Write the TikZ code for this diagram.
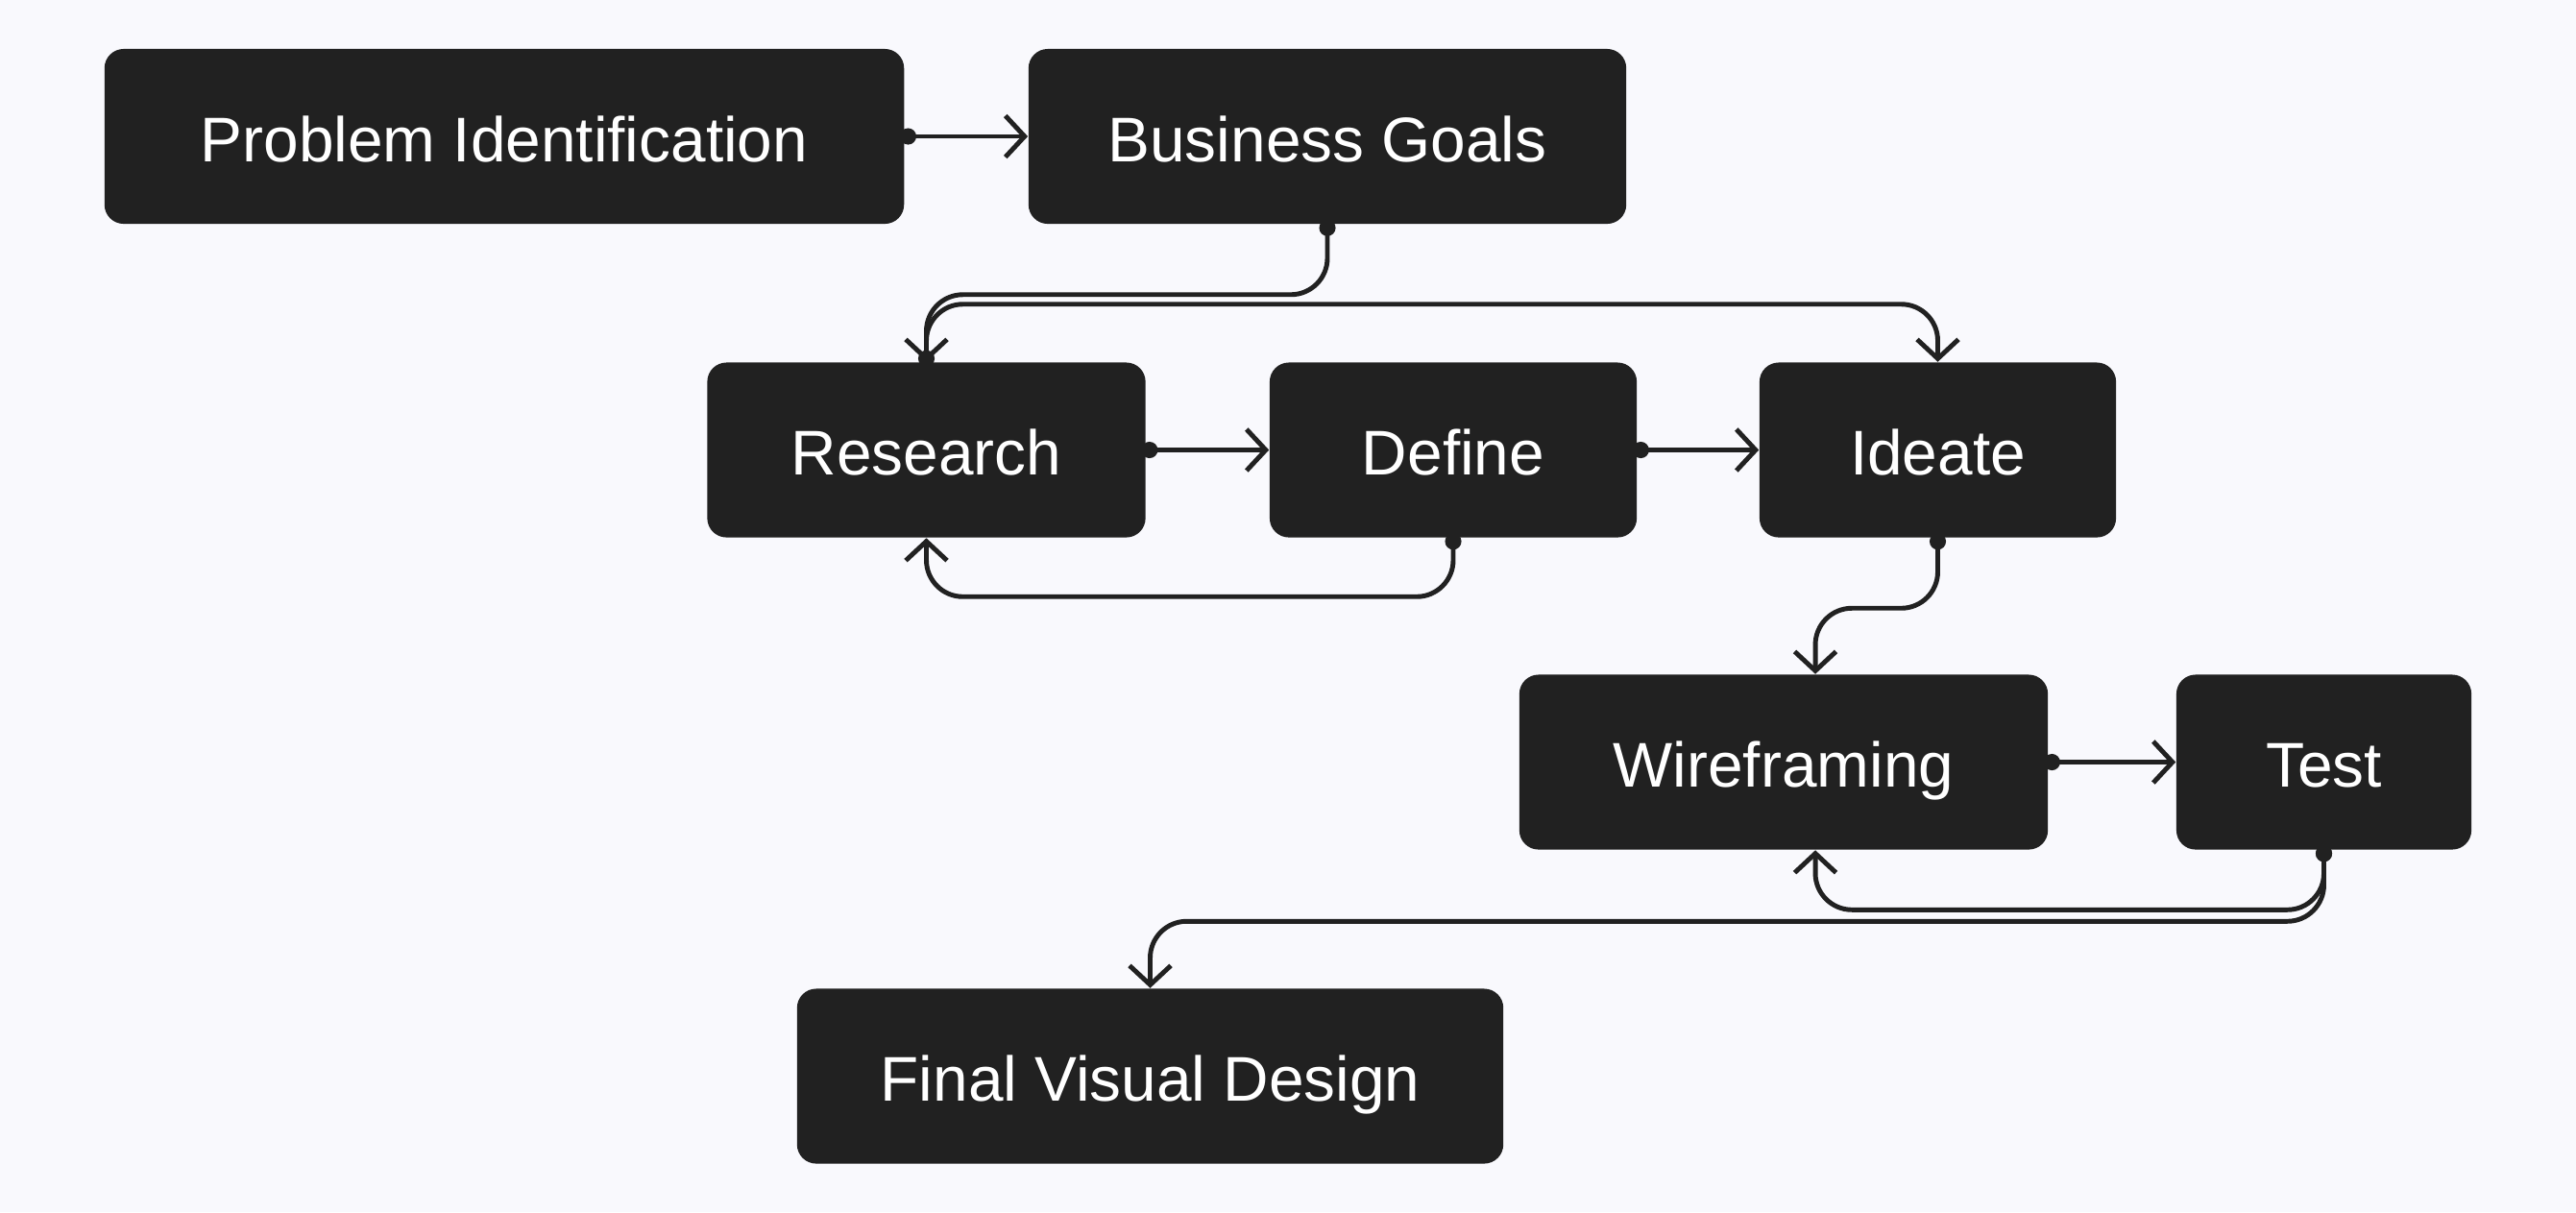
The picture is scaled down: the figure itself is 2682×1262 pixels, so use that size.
\documentclass[tikz,border=0pt]{standalone}
\usepackage{fontspec}
\setmainfont{Liberation Sans}
\usetikzlibrary{arrows.meta}
\definecolor{bgc}{HTML}{F9F9FD}
\definecolor{boxc}{HTML}{212121}
\pgfdeclarelayer{back}
\pgfdeclarelayer{canvas}
\pgfsetlayers{canvas,back,main}
\begin{document}
\begin{tikzpicture}[x=0.01cm,y=-0.01cm,
  box/.style={fill=boxc, rounded corners=0.2cm, text=white,
    font=\fontsize{18.7}{22}\selectfont, inner sep=0pt, minimum height=1.82cm,
    text height=15pt, text depth=0pt},
  conn/.style={draw=boxc, line width=1.4pt, rounded corners=0.38cm,
    {Circle[length=1.7mm,width=1.7mm]}-{Straight Barb[length=2mm,width=4.3mm]},
    shorten <=-0.5mm}]
\begin{pgfonlayer}{canvas}
\fill[bgc] (0,0) rectangle (2682,1262);
\end{pgfonlayer}
\useasboundingbox (0,0) rectangle (2682,1262);

\node[box, minimum width=8.32cm] (pi)   at (525,142)     {Problem Identification};
\node[box, minimum width=6.22cm] (bg)   at (1382,142)    {Business Goals};
\node[box, minimum width=4.56cm] (res)  at (964.5,468.5) {Research};
\node[box, minimum width=3.82cm] (def)  at (1513,468.5)  {Define};
\node[box, minimum width=3.71cm] (ide)  at (2017.5,468.5){Ideate};
\node[box, minimum width=5.50cm] (wf)   at (1857,793.5)  {Wireframing};
\node[box, minimum width=3.07cm] (test) at (2419.5,793.5){Test};
\node[box, minimum width=7.35cm] (fvd)  at (1197.5,1120.5){Final Visual Design};

\begin{pgfonlayer}{back}
\draw[conn] (pi.east) -- (bg.west);
\draw[conn] (bg.south) -- ++(0,73) -| (res.north);
\draw[conn] (res.north) -- ++(0,-60) -| (ide.north);
\draw[conn] (res.east) -- (def.west);
\draw[conn] (def.east) -- (ide.west);
\draw[conn] (def.south) -- ++(0,61) -| (res.south);
\draw[conn] (ide.south) -- ++(0,73) -| ([xshift=0.33cm]wf.north);
\draw[conn] (wf.east) -- (test.west);
\draw[conn] (test.south) -- ++(0,62) -| ([xshift=0.33cm]wf.south);
\draw[conn] (test.south) -- ++(0,74) -| (fvd.north);
\end{pgfonlayer}
\end{tikzpicture}
\end{document}
